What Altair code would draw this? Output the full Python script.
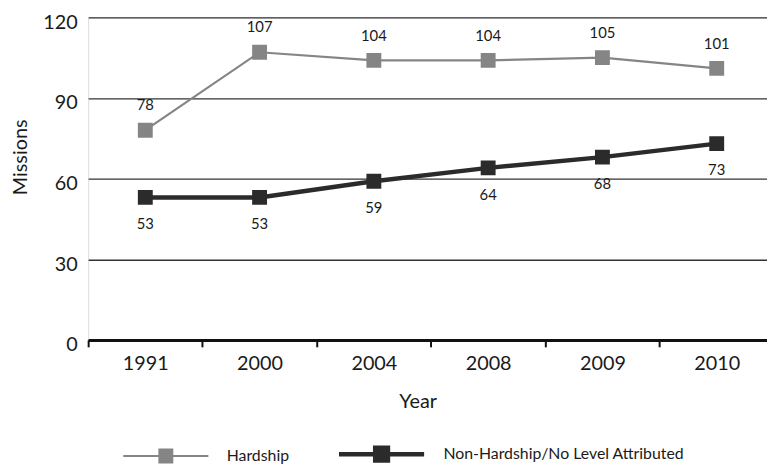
import altair as alt
import pandas as pd

years = ["1991", "2000", "2004", "2008", "2009", "2010"]
hardship = [78, 107, 104, 104, 105, 101]
non_hardship = [53, 53, 59, 64, 68, 73]
series_names = ["Hardship", "Non-Hardship/No Level Attributed"]
y_ticks = [0, 30, 60, 90, 120]

rows = []
for i, yr in enumerate(years):
    rows.append({"idx": i, "year": yr, "series": series_names[0], "value": hardship[i]})
    rows.append({"idx": i, "year": yr, "series": series_names[1], "value": non_hardship[i]})
df = pd.DataFrame(rows)

FONT = "Lato"
TXT = "#1a1a1a"
colors = ["#858585", "#2b2b2b"]

n = len(years)
x_scale = alt.Scale(domain=[-0.5, n - 0.56], nice=False, zero=False)
y_scale = alt.Scale(domain=[0, 120], nice=False)
color_scale = alt.Scale(domain=series_names, range=colors)

tick_axis = alt.Axis(
    values=[i - 0.5 for i in range(n)], labels=False, title=None, grid=False,
    domain=True, domainColor="#111111", domainWidth=3,
    ticks=True, tickSize=7, tickWidth=2, tickColor="#111111", orient="bottom",
)
label_expr = "[" + ",".join("'%s'" % y for y in years) + "][datum.value]"
label_axis = alt.Axis(
    values=list(range(n)), labelExpr=label_expr, ticks=False, domain=False, grid=False,
    labelFont=FONT, labelFontSize=20, labelColor=TXT, labelPadding=14,
    title="Year", titleFont=FONT, titleFontSize=20, titleFontWeight="normal",
    titleColor=TXT, titleX=333, titleY=62, titleBaseline="middle", orient="bottom",
)
y_axis = alt.Axis(
    values=y_ticks, grid=True, gridColor="#333333", gridWidth=1.3,
    domain=False, ticks=False, labelFont=FONT, labelFontSize=20, labelColor=TXT,
    labelPadding=11, labelOffset=5,
    title="Missions", titleFont=FONT, titleFontSize=20, titleFontWeight="normal",
    titleColor=TXT, titleX=-68, titleY=141, titleAngle=-90, titleBaseline="middle",
)

sym_path = "M-1,0L1,0M-0.15,-0.15L0.15,-0.15L0.15,0.15L-0.15,0.15Z"
legend = alt.Legend(
    title=None, orient="none", legendX=34, legendY=396, direction="horizontal",
    symbolType=sym_path, symbolSize=7396, symbolStrokeWidth=3.5, symbolOpacity=1,
    labelFont=FONT, labelFontSize=16, labelColor=TXT, labelOffset=17, labelLimit=400,
    columnPadding=40, padding=0,
)

Y = alt.Y("value:Q", scale=y_scale, axis=y_axis)
base = alt.Chart(df)

lines = base.mark_line().encode(
    x=alt.X("idx:Q", scale=x_scale, axis=tick_axis),
    y=Y,
    stroke=alt.Stroke("series:N", scale=color_scale, legend=legend),
    strokeWidth=alt.StrokeWidth("series:N", scale=alt.Scale(domain=series_names, range=[2.2, 4.5]), legend=None),
)

points = base.mark_point(shape="square", filled=True, size=170, strokeWidth=2, opacity=1).encode(
    x=alt.X("idx:Q", scale=x_scale, axis=label_axis),
    y=Y,
    fill=alt.Fill("series:N", scale=color_scale, legend=legend),
    stroke=alt.Stroke("series:N", scale=color_scale, legend=legend),
)

hard_text = base.transform_filter(alt.datum.series == series_names[0]).mark_text(
    dy=-25, font=FONT, fontSize=15, color=TXT
).encode(
    x=alt.X("idx:Q", scale=x_scale, axis=None),
    y=Y,
    text="value:Q",
)
non_text = base.transform_filter(alt.datum.series == series_names[1]).mark_text(
    dy=27, font=FONT, fontSize=15, color=TXT
).encode(
    x=alt.X("idx:Q", scale=x_scale, axis=None),
    y=Y,
    text="value:Q",
)

chart = alt.layer(lines, points, hard_text, non_text).resolve_axis(x="independent", y="shared").properties(
    width=686, height=326,
    autosize=alt.AutoSizeParams(type="none"),
    padding={"left": 81, "top": 7, "right": 0, "bottom": 124},
).configure_view(stroke=None).configure(background="white")

chart.save("out.html", embed_options={"renderer": "svg", "actions": False})
